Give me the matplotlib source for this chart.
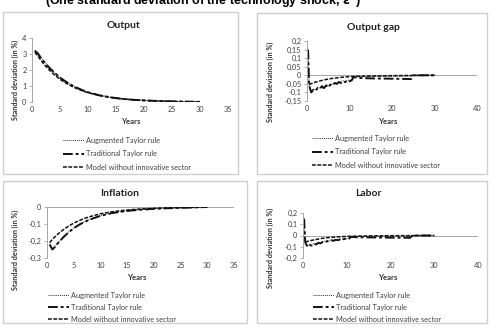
import matplotlib
matplotlib.use("Agg")
import matplotlib.pyplot as plt
from matplotlib.patches import Rectangle

plt.rcParams['font.family'] = ['Lato', 'DejaVu Sans']

W, H = 490, 332

# ---------------- data ----------------
labels = ["Augmented Taylor rule", "Traditional Taylor rule", "Model without innovative sector"]

t_out = [0.5, 1, 1.5, 2, 2.5, 3, 4, 5, 6, 7, 8, 9, 10, 12, 14, 16, 18, 20, 22, 24, 26, 28, 30]
aug_out = [3.25, 3.1, 2.85, 2.6, 2.4, 2.2, 1.85, 1.55, 1.3, 1.08, 0.9, 0.75, 0.62, 0.43, 0.3, 0.2, 0.14, 0.1, 0.07, 0.05, 0.03, 0.02, 0.01]
trad_out = [3.2, 3.05, 2.8, 2.58, 2.38, 2.18, 1.83, 1.53, 1.28, 1.07, 0.89, 0.74, 0.61, 0.42, 0.29, 0.2, 0.14, 0.1, 0.07, 0.05, 0.03, 0.02, 0.01]
model_out = [3.1, 2.9, 2.65, 2.42, 2.22, 2.03, 1.7, 1.42, 1.19, 1.0, 0.84, 0.7, 0.58, 0.41, 0.29, 0.2, 0.14, 0.1, 0.07, 0.05, 0.03, 0.02, 0.01]

t_saw = [0.25, 0.5, 1, 1.5, 2, 2.5, 3, 3.5, 4, 4.5, 5, 5.5, 6, 6.5, 7, 7.5, 8, 8.5, 9, 9.5, 10, 10.5, 11, 12, 15, 20, 24.5, 25, 30]
trad_gap = [0.15, -0.06, -0.10, -0.085, -0.09, -0.075, -0.08, -0.065, -0.075, -0.06, -0.07, -0.055, -0.06, -0.045,
            -0.05, -0.04, -0.045, -0.035, -0.04, -0.03, -0.035, -0.03, -0.01, -0.015, -0.018, -0.02, -0.022, 0.0, 0.0]
aug_gap = [0.15, -0.055, -0.095, -0.08, -0.085, -0.07, -0.075, -0.06, -0.07, -0.055, -0.065, -0.05, -0.055, -0.042,
           -0.046, -0.037, -0.04, -0.032, -0.036, -0.028, -0.03, -0.026, -0.008, -0.008, -0.007, -0.006, -0.005, 0.0, 0.0]
t_smooth = [0.5, 1, 2, 3, 4, 5, 6, 8, 10, 12, 15, 20, 25, 30]
model_gap = [-0.055, -0.048, -0.04, -0.033, -0.027, -0.022, -0.018, -0.012, -0.008, -0.006, -0.004, -0.002, -0.001, 0.0]

t_inf = [0.5, 1, 1.5, 2, 3, 4, 5, 6, 7, 8, 10, 12, 14, 16, 18, 20, 22, 25, 28, 30]
aug_inf = [-0.225, -0.245, -0.23, -0.21, -0.177, -0.148, -0.123, -0.103, -0.087, -0.073, -0.051, -0.036, -0.026,
           -0.019, -0.014, -0.01, -0.007, -0.004, -0.002, 0.0]
trad_inf = [-0.22, -0.25, -0.235, -0.215, -0.18, -0.15, -0.125, -0.105, -0.088, -0.074, -0.052, -0.037, -0.027,
            -0.02, -0.015, -0.011, -0.008, -0.005, -0.002, 0.0]
model_inf = [-0.21, -0.19, -0.175, -0.16, -0.135, -0.113, -0.095, -0.08, -0.067, -0.057, -0.04, -0.029, -0.021,
             -0.015, -0.011, -0.008, -0.006, -0.004, -0.002, 0.0]

trad_lab = [0.15, -0.06, -0.10, -0.085, -0.09, -0.075, -0.08, -0.065, -0.07, -0.058, -0.062, -0.05, -0.055, -0.043,
            -0.047, -0.038, -0.042, -0.034, -0.037, -0.03, -0.033, -0.028, -0.012, -0.015, -0.017, -0.019, -0.02, 0.0, 0.0]
aug_lab = [0.15, -0.055, -0.095, -0.08, -0.085, -0.07, -0.075, -0.06, -0.065, -0.053, -0.057, -0.046, -0.05, -0.04,
           -0.043, -0.035, -0.038, -0.031, -0.034, -0.027, -0.03, -0.025, -0.008, -0.008, -0.007, -0.006, -0.005, 0.0, 0.0]
model_lab = [-0.06, -0.052, -0.043, -0.035, -0.028, -0.022, -0.018, -0.012, -0.008, -0.006, -0.004, -0.002, -0.001, 0.0]

out_yticks = [0, 1, 2, 3, 4]
out_ylabels = ["0", "1", "2", "3", "4"]
gap_yticks = [-0.15, -0.1, -0.05, 0, 0.05, 0.1, 0.15, 0.2]
gap_ylabels = ["-0,15", "-0,1", "-0,05", "0", "0,05", "0,1", "0,15", "0,2"]
inf_yticks = [-0.3, -0.2, -0.1, 0]
inf_ylabels = ["-0,3", "-0,2", "-0,1", "0"]
lab_yticks = [-0.2, -0.1, 0, 0.1, 0.2]
lab_ylabels = ["-0,2", "-0,1", "0", "0,1", "0,2"]
x35 = [0, 5, 10, 15, 20, 25, 30, 35]
x40 = [0, 10, 20, 30, 40]

# ---------------- figure ----------------
fig = plt.figure(figsize=(W / 100, H / 100), dpi=100)
fig.patch.set_facecolor("white")

def fx(x):
    return x / W

def fy(y):
    return 1 - y / H

def box(x0, y0, x1, y1):
    fig.patches.append(Rectangle((fx(x0), fy(y1)), fx(x1) - fx(x0), fy(y0) - fy(y1),
                                 transform=fig.transFigure, fill=False, edgecolor="#cfcfcf", lw=1.0))

box(3, 12, 238, 174)
box(257, 13, 487, 174)
box(3, 181, 247, 323)
box(257, 181, 487, 323)

fig.text(fx(203), fy(2), r"(One standard deviation of the technology shock, $\mathbf{\varepsilon^{a}}$)",
         ha="center", va="center", fontsize=9, fontweight="bold", family=["Liberation Sans", "DejaVu Sans"])

tick_col = "#404040"
axis_col = "#a6a6a6"

styles = [
    dict(color="#333333", lw=0.7, ls=(0, (1, 1))),
    dict(color="#111111", lw=1.4, ls=(0, (5, 1.5, 1.5, 1.5))),
    dict(color="#111111", lw=1.1, ls=(0, (2.5, 1))),
]

FS = 5.3

def make_panel(px0, py_top, px1, py_bot, xlim, ylim, xt, yt, ytl, series, title, tpos, ylab_pos, years_pos, leg_pos,
               spacing):
    ax = fig.add_axes([fx(px0), fy(py_bot), fx(px1) - fx(px0), fy(py_top) - fy(py_bot)])
    ax.set_facecolor("none")
    handles = []
    for (t, v), st in zip(series, styles):
        h, = ax.plot(t, v, **st)
        handles.append(h)
    ax.set_xlim(*xlim)
    ax.set_ylim(*ylim)
    ax.set_yticks(yt)
    ax.set_yticklabels(ytl)
    ax.set_xticks(xt)
    ax.set_xticklabels([str(v) for v in xt])
    for s in ["top", "right", "bottom"]:
        ax.spines[s].set_visible(False)
    ax.spines["left"].set_color(axis_col)
    ax.spines["left"].set_linewidth(0.7)
    ax.axhline(0, color=axis_col, lw=0.7, zorder=0)
    ax.tick_params(axis="y", length=2, width=0.6, color=axis_col, labelsize=FS, labelcolor=tick_col, pad=2)
    ax.tick_params(axis="x", length=0, labelsize=FS, labelcolor=tick_col, pad=3)
    fig.text(fx(tpos[0]), fy(tpos[1]), title, ha="center", va="center", fontsize=7.5, fontweight="bold", color="#222222")
    fig.text(fx(ylab_pos[0]), fy(ylab_pos[1]), "Standard deviation (in %)", rotation=90, ha="center", va="center",
             fontsize=5.2, fontweight="bold", color="#333333")
    fig.text(fx(years_pos[0]), fy(years_pos[1]), "Years", ha="center", va="center", fontsize=5.6, fontweight="bold",
             color="#333333")
    ax.legend(handles, labels, loc="upper left", bbox_to_anchor=(fx(leg_pos[0]), fy(leg_pos[1])),
              bbox_transform=fig.transFigure, frameon=False, fontsize=FS, handlelength=2.8, handletextpad=0.3,
              labelspacing=spacing, borderpad=0, borderaxespad=0, labelcolor=tick_col)
    return ax

make_panel(32, 38, 228, 102, (0, 35), (0, 4), x35, out_yticks, out_ylabels,
           [(t_out, aug_out), (t_out, trad_out), (t_out, model_out)],
           "Output", (123, 25), (15, 80), (131, 122), (63, 137), 0.85)

make_panel(307, 41, 477, 101, (0, 40), (-0.15, 0.2), x40, gap_yticks, gap_ylabels,
           [(t_saw, aug_gap), (t_saw, trad_gap), (t_smooth, model_gap)],
           "Output gap", (373, 27), (270, 82), (388, 122), (312, 135), 0.85)

make_panel(47, 207, 234, 258, (0, 35), (-0.3, 0), x35, inf_yticks, inf_ylabels,
           [(t_inf, aug_inf), (t_inf, trad_inf), (t_inf, model_inf)],
           "Inflation", (120, 193), (15, 250), (137, 278), (48, 292), 0.65)

make_panel(303, 213, 478, 258, (0, 40), (-0.2, 0.2), x40, lab_yticks, lab_ylabels,
           [(t_saw, aug_lab), (t_saw, trad_lab), (t_smooth, model_lab)],
           "Labor", (368, 193), (270, 248), (388, 278), (313, 292), 0.65)

fig.savefig("out.png", dpi=100, facecolor="white")
